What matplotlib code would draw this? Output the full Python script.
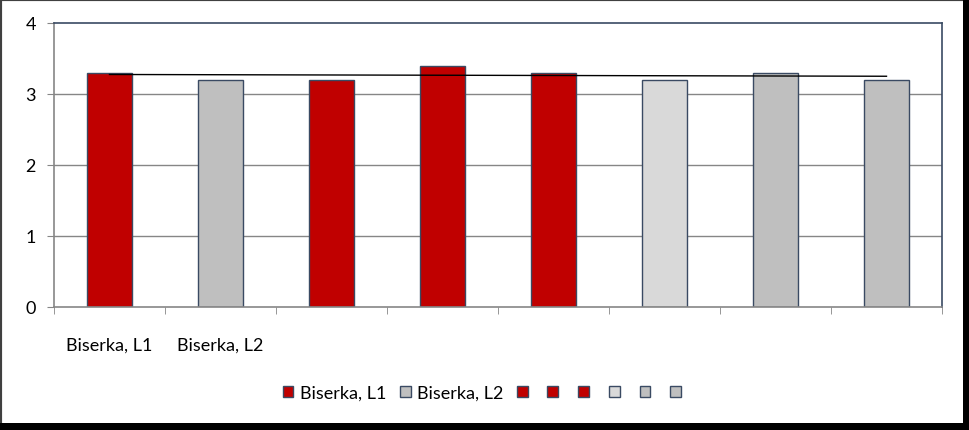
import numpy as np
import matplotlib
matplotlib.use("Agg")
import matplotlib.pyplot as plt
from matplotlib.patches import Patch, Rectangle

plt.rcParams['font.family'] = ['Lato', 'DejaVu Sans']

series_names = ["Biserka, L1", "Biserka, L2", "", "", "", "", "", ""]
values = [3.3, 3.2, 3.2, 3.4, 3.3, 3.2, 3.3, 3.2]
colors = ["#C00000", "#BFBFBF", "#C00000", "#C00000", "#C00000", "#D9D9D9", "#BFBFBF", "#BFBFBF"]
tick_labels = ["Biserka, L1", "Biserka, L2", "", "", "", "", "", ""]
yticks = [0, 1, 2, 3, 4]

fig = plt.figure(figsize=(9.7, 4.31), dpi=100)
W, H = 970, 431
ax = fig.add_axes([54 / W, 1 - 308 / H, (942 - 54) / W, (308 - 24) / H])

edge = "#3A4A63"
x = np.arange(len(values))
handles = []
for i, (v, c) in enumerate(zip(values, colors)):
    ax.bar(x[i], v, width=0.4, color=c, edgecolor=edge, linewidth=1.0, zorder=3)
    handles.append(Patch(facecolor=c, edgecolor=edge, linewidth=1.0))

# linear trendline
coef = np.polyfit(x, values, 1)
ax.plot([x[0], x[-1]], np.polyval(coef, [x[0], x[-1]]), color="black", lw=1.0, zorder=4)

ax.set_xlim(-0.5, len(values) - 0.5)
ax.set_ylim(0, 4)
ax.set_yticks(yticks)
ax.set_yticklabels([str(t) for t in yticks], fontsize=13)
for t in yticks[1:4]:
    ax.axhline(t, color="#868686", lw=1.0, zorder=1)

ax.set_xticks(x)
ax.set_xticklabels(tick_labels, fontsize=13)
ax.tick_params(axis='x', length=0, pad=21)
ax.set_xticks(np.arange(-0.5, len(values), 1.0), minor=True)
ax.tick_params(axis='x', which='minor', length=5, color="#868686", direction='out')
ax.tick_params(axis='y', length=5, color="#868686", direction='out', pad=8)

ax.spines['left'].set_color("#868686")
ax.spines['bottom'].set_color("#868686")
ax.spines['top'].set_color(edge)
ax.spines['right'].set_color(edge)
for s in ax.spines.values():
    s.set_linewidth(1.2)
    s.set_zorder(5)

leg = fig.legend(handles, series_names, loc='center', bbox_to_anchor=(485 / W, 1 - 394 / H),
                 ncol=8, frameon=False, fontsize=13, handlelength=0.6, handleheight=0.6,
                 handletextpad=0.35, columnspacing=0.75)

# outer chart frame with shadow
fig.patches.append(Rectangle((0, 0), 1, 1, transform=fig.transFigure, fill=False,
                             edgecolor="#404040", lw=3, zorder=10))
fig.patches.append(Rectangle((1 - 7 / W, 0), 7 / W, 1, transform=fig.transFigure,
                             facecolor="black", edgecolor="none", zorder=10))
fig.patches.append(Rectangle((0, 0), 1, 7 / H, transform=fig.transFigure,
                             facecolor="black", edgecolor="none", zorder=10))

fig.savefig("out.png", dpi=100)
